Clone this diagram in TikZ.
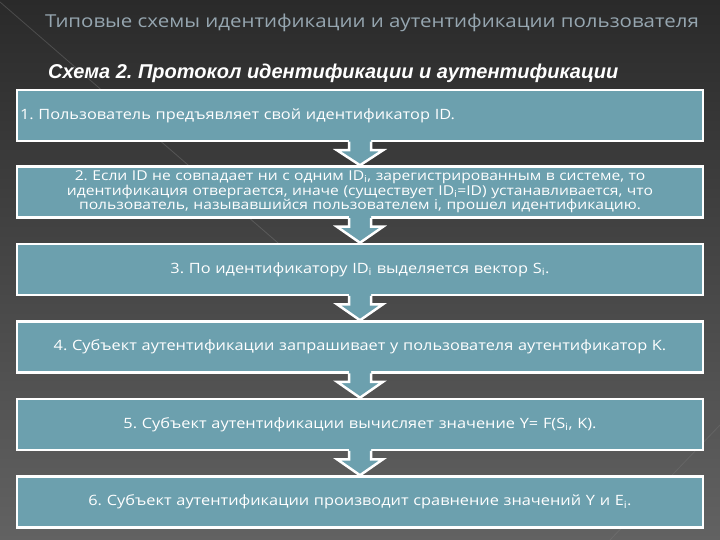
\documentclass[tikz,border=0pt]{standalone}
\usepackage{fontspec}
\usepackage{tikz}
\usetikzlibrary{positioning}
\usetikzlibrary{calc}

\newfontfamily\gothic[FakeStretch=1.15]{Open Sans}
\newfontfamily\arialfont{Liberation Sans}
\frenchspacing

\definecolor{bgtop}{RGB}{42,42,42}
\definecolor{bgmid}{RGB}{58,58,58}
\definecolor{bgbot}{RGB}{98,98,98}
\definecolor{boxfill}{RGB}{108,160,174}
\definecolor{headgray}{RGB}{150,166,176}

\tikzset{
  stepbox/.style={draw=white, line width=2.5pt, fill=boxfill, minimum width=686pt,
    minimum height=51pt, inner sep=3pt, text=white, font=\gothic\fontsize{14.2}{14.5}\selectfont},
  arrowfill/.style={fill=boxfill},
  arrowline/.style={draw=white, line width=2.5pt, line join=miter}
}

% block arrow from the bottom of #1 down to the top of #2
\newcommand\stepdown[2]{%
  \fill[arrowfill] ($(#1.south)+(-11,-3)$) -- ($(#1.south)+(-11,8)$) -- ($(#1.south)+(-23,8)$)
     -- (#2.north) -- ($(#1.south)+(23,8)$) -- ($(#1.south)+(11,8)$) -- ($(#1.south)+(11,-3)$) -- cycle;
  \draw[arrowline] ($(#1.south)+(-11,-0.5)$) -- ($(#1.south)+(-11,8)$) -- ($(#1.south)+(-23,8)$)
     -- (#2.north) -- ($(#1.south)+(23,8)$) -- ($(#1.south)+(11,8)$) -- ($(#1.south)+(11,-0.5)$);
}

\begin{document}
\begin{tikzpicture}[x=1pt, y=-1pt]

\shade[top color=bgtop, middle color=bgmid, bottom color=bgbot] (0,0) rectangle (720,540);
\useasboundingbox (0,0) rectangle (720,540);
\draw[white!40!bgmid, opacity=0.35, line width=0.8pt] (0,2) -- (300,262);
\draw[white!40!bgmid, opacity=0.25, line width=0.8pt] (720,425) -- (610,540);
%\draw[white!40!bgmid, opacity=0.25] (600,420) -- (720,520);

\node[anchor=west, text=headgray, inner sep=0pt, font=\gothic\fontsize{17.8}{20}\selectfont] (title) at (45,23)
  {Типовые схемы идентификации и аутентификации пользователя};
\node[anchor=west, text=white, inner sep=0pt, font=\arialfont\bfseries\itshape\fontsize{20}{22}\selectfont] (subtitle) at (48,73)
  {Схема 2. Протокол идентификации и аутентификации};

\def\bx{360};
\node[stepbox, text width=680pt, align=left] (s1) at (\bx,115.5)
  {1. Пользователь предъявляет свой идентификатор ID.};
\node[stepbox, text width=680pt, align=center, font=\gothic\fontsize{13.6}{14.5}\selectfont] (s2) at (\bx,192)
  {2. Если ID не совпадает ни с одним ID\textsubscript{i}, зарегистрированным в системе, то\\
   идентификация отвергается, иначе (существует ID\textsubscript{i}=ID) устанавливается, что\\
   пользователь, называвшийся пользователем i, прошел идентификацию.};
\node[stepbox, text width=680pt, align=center] (s3) at (\bx,269.5)
  {3. По идентификатору ID\textsubscript{i} выделяется вектор S\textsubscript{i}.};
\node[stepbox, text width=680pt, align=center] (s4) at (\bx,347)
  {4. Субъект аутентификации запрашивает у пользователя аутентификатор K.};
\node[stepbox, text width=680pt, align=center] (s5) at (\bx,424.5)
  {5. Субъект аутентификации вычисляет значение Y= F(S\textsubscript{i}, K).};
\node[stepbox, text width=680pt, align=center] (s6) at (\bx,502)
  {6. Субъект аутентификации производит сравнение значений Y и E\textsubscript{i}.};

\stepdown{s1}{s2}
\stepdown{s2}{s3}
\stepdown{s3}{s4}
\stepdown{s4}{s5}
\stepdown{s5}{s6}

\end{tikzpicture}
\end{document}
